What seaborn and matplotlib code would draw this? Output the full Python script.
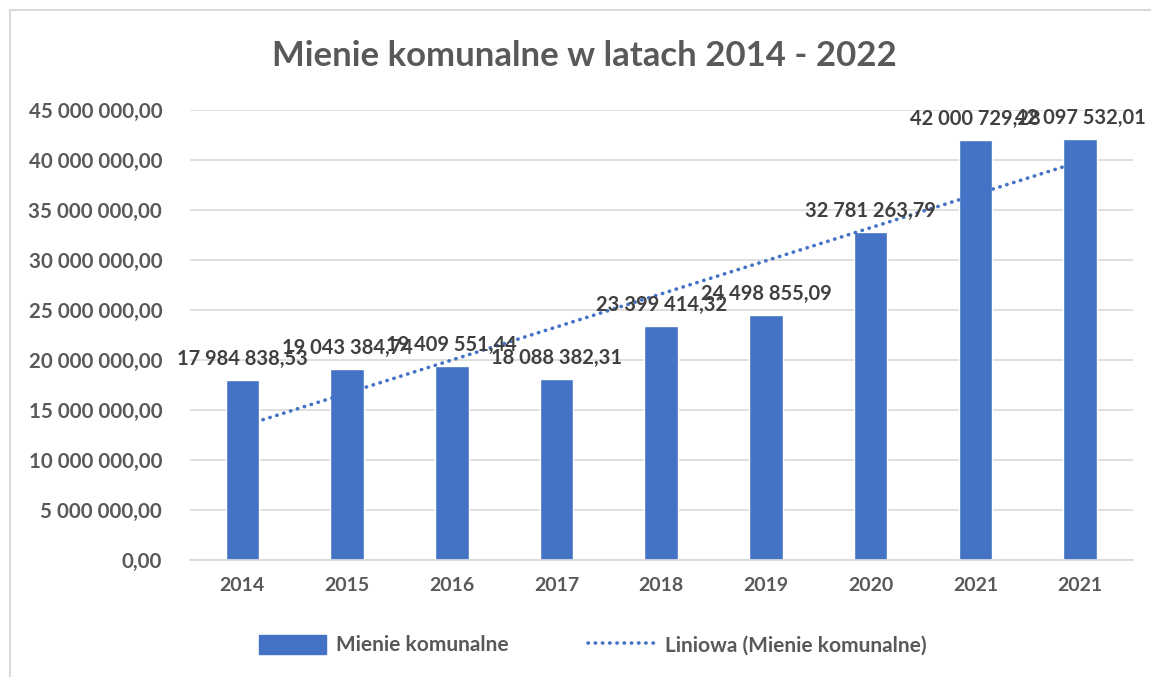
import numpy as np
import pandas as pd
import matplotlib
matplotlib.use("Agg")
import matplotlib.pyplot as plt
from matplotlib.patches import Rectangle
from matplotlib.lines import Line2D
import seaborn as sns

lata = ["2014", "2015", "2016", "2017", "2018", "2019", "2020", "2021", "2021"]
wartosci = [17984838.53, 19043384.74, 19409551.44, 18088382.31, 23399414.32,
            24498855.09, 32781263.79, 42000729.28, 42097532.01]
y_ticks = [0, 5e6, 10e6, 15e6, 20e6, 25e6, 30e6, 35e6, 40e6, 45e6]

NIEBIESKI = "#4472C4"
SZARY = "#595959"


def fmt_pl(v):
    # 17 984 838,53 - spacja tysiecy, przecinek dziesietny
    return f"{v:,.2f}".replace(",", " ").replace(".", ",")


sns.set_theme(style="white")
plt.rcParams['font.family'] = ['Lato', 'DejaVu Sans']

df = pd.DataFrame({"poz": np.arange(len(lata)), "rok": lata, "wartosc": wartosci})

fig = plt.figure(figsize=(11.51, 6.77), dpi=100)
ax = fig.add_axes([0.165, 0.173, 0.819, 0.665])

sns.barplot(data=df, x="poz", y="wartosc", color=NIEBIESKI, saturation=1,
            width=0.32, ax=ax)

# linia trendu (liniowa, jak w Excelu)
x_tr = df["poz"].to_numpy() + 1
a, b = np.polyfit(x_tr, df["wartosc"], 1)
ax.plot(df["poz"], a * x_tr + b, color=NIEBIESKI, lw=2.6,
        linestyle=(0, (0.1, 1.9)), dash_capstyle="round", zorder=3)

for bar, v in zip(ax.patches, wartosci):
    ax.annotate(fmt_pl(v), xy=(bar.get_x() + bar.get_width() / 2, bar.get_height()),
                xytext=(0, 8), textcoords="offset points", ha="center", va="bottom",
                fontsize=14.5, fontweight="bold", color="#404040", zorder=4)

ax.set_ylim(0, 45e6)
ax.set_xlim(-0.5, len(lata) - 0.5)
ax.set_yticks(y_ticks)
ax.set_yticklabels([fmt_pl(t) for t in y_ticks], fontsize=14.8, fontweight="bold", color=SZARY)
ax.set_xticks(df["poz"])
ax.set_xticklabels(lata, fontsize=14, fontweight="bold", color=SZARY)
ax.tick_params(axis="y", length=0, pad=20)
ax.tick_params(axis="x", length=0, pad=12)
ax.yaxis.grid(True, color="#d9d9d9", lw=1.2)
ax.set_axisbelow(True)
for s in ax.spines.values():
    s.set_visible(False)
ax.spines["bottom"].set_visible(True)
ax.spines["bottom"].set_color("#d9d9d9")
ax.set_xlabel("")
ax.set_ylabel("")

fig.text(0.508, 0.918, "Mienie komunalne w latach 2014 - 2022", ha="center", va="center",
         fontsize=25, fontweight="bold", color=SZARY)

uchwyty = [Rectangle((0, 0), 1, 1, color=NIEBIESKI),
           Line2D([0], [0], color=NIEBIESKI, lw=2.6, linestyle=(0, (0.1, 1.9)),
                  dash_capstyle="round")]
fig.legend(uchwyty, ["Mienie komunalne", "Liniowa (Mienie komunalne)"],
           loc="center", bbox_to_anchor=(0.515, 0.047), ncol=2, frameon=False,
           prop={"size": 15, "weight": "bold"}, labelcolor=SZARY,
           handlelength=3.2, handleheight=1.0, columnspacing=3.8, handletextpad=0.5)

# ramka wykresu
fig.patches.append(Rectangle((10 / 1151, -0.05), 1.2, 1 - 10 / 677 + 0.05,
                             transform=fig.transFigure, fill=False,
                             edgecolor="#d9d9d9", lw=1.5))

fig.savefig("out.png", dpi=100)
